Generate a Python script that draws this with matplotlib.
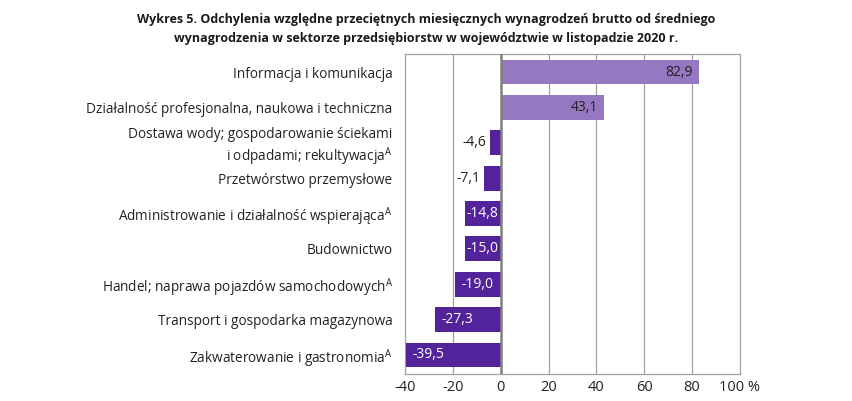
import matplotlib
matplotlib.use("Agg")
import matplotlib.pyplot as plt

plt.rcParams['font.family'] = ['Open Sans', 'DejaVu Sans']
plt.rcParams['mathtext.fontset'] = 'custom'
plt.rcParams['mathtext.rm'] = 'Open Sans'

sektory = [
    "Informacja i komunikacja",
    "Działalność profesjonalna, naukowa i techniczna",
    "Dostawa wody; gospodarowanie ściekami\ni odpadami; rekultywacja$^{\\mathrm{A}}$",
    "Przetwórstwo przemysłowe",
    "Administrowanie i działalność wspierająca$^{\\mathrm{A}}$",
    "Budownictwo",
    "Handel; naprawa pojazdów samochodowych$^{\\mathrm{A}}$",
    "Transport i gospodarka magazynowa",
    "Zakwaterowanie i gastronomia$^{\\mathrm{A}}$",
]
odchylenia = [82.9, 43.1, -4.6, -7.1, -14.8, -15.0, -19.0, -27.3, -39.5]
xticks = [-40, -20, 0, 20, 40, 60, 80, 100]
xlabels = ["-40", "-20", "0", "20", "40", "60", "80", "100 %"]

jasny = "#9677c2"
ciemny = "#52239a"

fig = plt.figure(figsize=(8.52, 4.01), dpi=100)
ax = fig.add_axes([0.4754, 0.0673, 0.3931, 0.798])

y = list(range(len(sektory)))
kolory = [jasny if v > 0 else ciemny for v in odchylenia]
ax.barh(y, odchylenia, height=0.7, color=kolory, zorder=3)

for i, v in enumerate(odchylenia):
    txt = f"{v:.1f}".replace(".", ",")
    if v > 0:
        ax.text(v - 2.5, i, txt, ha="right", va="center", color="#222222", fontsize=10, zorder=6)
    elif v > -10:
        ax.text(v - 1.5, i, txt, ha="right", va="center", color="#222222", fontsize=10, zorder=6)
    elif v > -18:
        ax.text(-0.8, i, txt, ha="right", va="center", color="white", fontsize=10, zorder=6)
    else:
        ax.text(v + 2.6, i, txt, ha="left", va="center", color="white", fontsize=10, zorder=6)

ax.set_xlim(-40, 100)
ax.set_ylim(len(sektory) - 0.46, -0.51)
ax.set_xticks(xticks)
ax.set_xticklabels(xlabels)
ax.set_yticks(y)
ax.set_yticklabels(sektory)
ax.tick_params(axis="x", length=0, pad=4, labelsize=10.5, colors="#222222")
ax.tick_params(axis="y", length=0, pad=9, labelsize=9.8, colors="#222222")
for t in ax.get_yticklabels():
    t.set_multialignment("right")

for x in xticks[1:-1]:
    if x == 0:
        continue
    ax.axvline(x, color="#a0a0a0", lw=0.9, zorder=1)
ax.axvline(0, color="#808080", lw=1.8, zorder=5)
for s in ax.spines.values():
    s.set_color("#a0a0a0")
    s.set_linewidth(0.9)

fig.suptitle("Wykres 5. Odchylenia względne przeciętnych miesięcznych wynagrodzeń brutto od średniego\n"
             "wynagrodzenia w sektorze przedsiębiorstw w województwie w listopadzie 2020 r.",
             fontsize=9.0, fontweight="bold", y=0.968, color="#1a1a1a", linespacing=1.6)

fig.savefig("out.png", dpi=100)
